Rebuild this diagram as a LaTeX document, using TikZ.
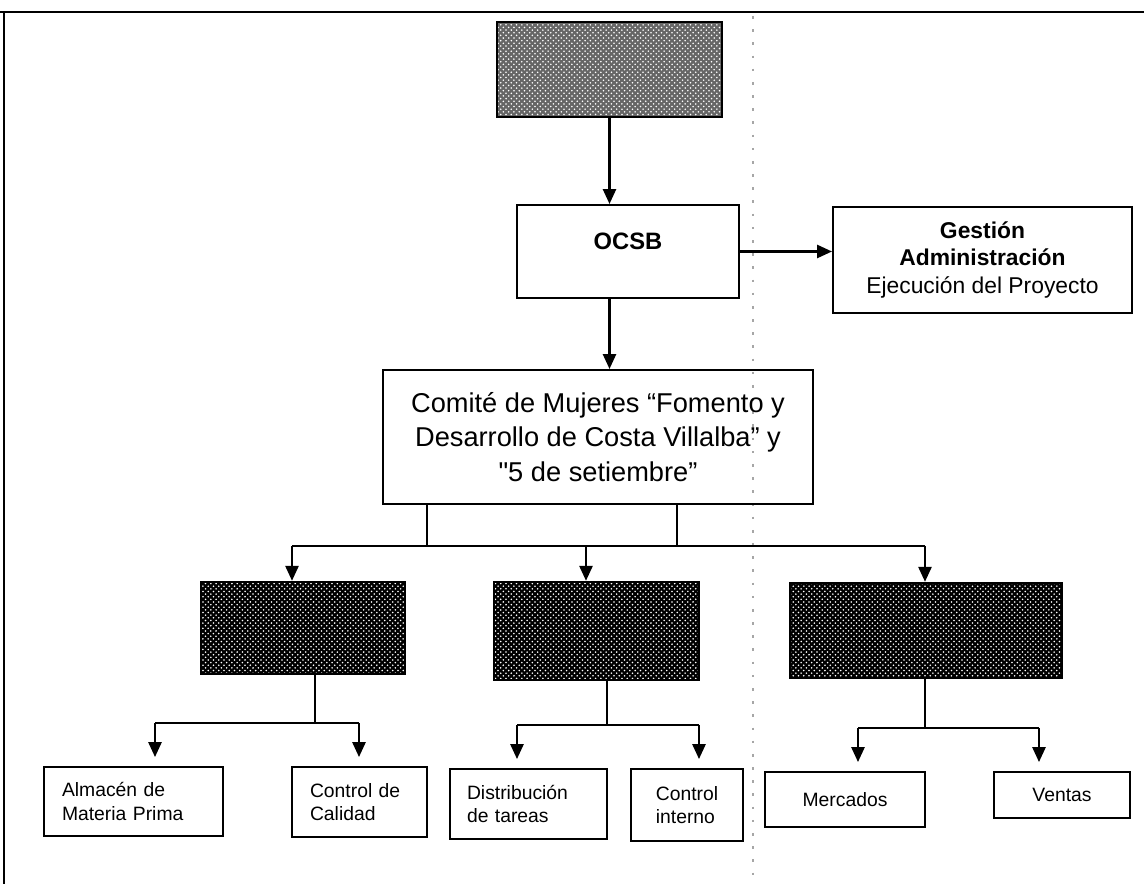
\documentclass[tikz,border=0pt]{standalone}
\usepackage{fontspec}
\setmainfont{Liberation Sans}
\usepackage{tikz}
\usetikzlibrary{arrows.meta, positioning, calc, patterns}

\begin{document}
\begin{tikzpicture}[x=0.02cm, y=-0.02cm,
    box/.style={draw, line width=1.2pt, align=center, inner sep=2pt},
    darkbox/.style={draw, line width=1.4pt, preaction={fill=black}, pattern=crosshatch dots, pattern color=white},
    lowbox/.style={draw, line width=1.1pt, align=left, inner sep=2pt, font=\fontsize{11}{13.5}\selectfont},
    link/.style={line width=1.2pt},
    arr/.style={link, -{Triangle[length=8.5pt,width=7.5pt]}}]
    \useasboundingbox (0,0) rectangle (1144,884);

    % Frame of the page
    \draw[line width=1.3pt] (0,12) -- (1144,12);
    \draw[line width=1.1pt] (4,12) -- (4,884);
    % Fold of the sheet
    \draw[gray!70, line width=1pt, dash pattern=on 1.5pt off 6pt] (753,16) -- (753,880);

    % Upper levels
    \node[draw, line width=1.4pt, preaction={fill=black!60}, pattern=crosshatch dots, pattern color=white,
          minimum width=4.5cm, minimum height=1.9cm] (proy) at (609.5,69.5) {};
    \node[box, font=\fontsize{13.5}{16}\selectfont\bfseries, text depth=12pt,
          minimum width=4.44cm, minimum height=1.86cm] (ocsb) at (628,251.5) {OCSB};
    \node[box, font=\fontsize{13}{15.5}\selectfont,
          minimum width=5.98cm, minimum height=2.12cm] (gest) at (982.5,260)
          {\textbf{Gestión}\\\textbf{Administración}\\Ejecución del Proyecto};
    \node[box, font=\fontsize{15.5}{19.5}\selectfont,
          minimum width=8.6cm, minimum height=2.68cm] (comite) at (598,437)
          {Comité de Mujeres “Fomento y\\Desarrollo de Costa Villalba” y\\\textquotedbl 5 de setiembre”};

    \draw[arr] (proy.south) -- (proy.south |- ocsb.north);
    \draw[arr] (ocsb.east) -- (ocsb.east -| gest.west);
    \draw[arr] (proy.south |- ocsb.south) -- (proy.south |- comite.north);

    % Second level (dark boxes)
    \node[darkbox, minimum width=4.08cm, minimum height=1.84cm] (d1) at (303,628) {};
    \node[darkbox, minimum width=4.1cm, minimum height=1.96cm] (d2) at (596.5,631) {};
    \node[darkbox, minimum width=5.44cm, minimum height=1.9cm] (d3) at (926,630.5) {};

    \coordinate (legA) at (427,546);
    \coordinate (legB) at (677,546);
    \coordinate (busL) at (292,546);
    \coordinate (busM) at (586,546);
    \coordinate (busR) at (925,546);
    \draw[link] (comite.south -| legA) -- (legA);
    \draw[link] (comite.south -| legB) -- (legB);
    \draw[link] (busL) -- (busR);
    \draw[arr] (busL) -- (busL |- d1.north);
    \draw[arr] (busM) -- (busM |- d2.north);
    \draw[arr] (busR) -- (busR |- d3.north);

    % Bottom level
    \node[lowbox, inner xsep=0.36cm, text width=2.86cm, minimum height=1.38cm] (alm) at (133.5,801.5) {Almacén de\\Materia Prima};
    \node[lowbox, inner xsep=0.36cm, text width=1.98cm, minimum height=1.4cm] (cal) at (359.5,802) {Control de\\Calidad};
    \node[lowbox, inner xsep=0.34cm, text width=2.46cm, minimum height=1.4cm] (dist) at (528.5,804) {Distribución\\de tareas};
    \node[lowbox, minimum width=2.24cm, minimum height=1.44cm] (cint) at (687,805) {Control\\interno};
    \node[lowbox, minimum width=3.2cm, minimum height=1.1cm] (merc) at (845,799.5) {Mercados};
    \node[lowbox, minimum width=2.72cm, minimum height=0.92cm] (vent) at (1062,795) {Ventas};

    \coordinate (s1) at (315,723);
    \coordinate (a1) at (155,723);
    \coordinate (a2) at (359,723);
    \coordinate (s2) at (607,725);
    \coordinate (a3) at (517,725);
    \coordinate (a4) at (699,725);
    \coordinate (s3) at (925,728);
    \coordinate (a5) at (858,728);
    \coordinate (a6) at (1039,728);

    \draw[link] (d1.south -| s1) -- (s1);
    \draw[link] (d2.south -| s2) -- (s2);
    \draw[link] (d3.south -| s3) -- (s3);
    \draw[link] (a1) -- (a2);
    \draw[link] (a3) -- (a4);
    \draw[link] (a5) -- (a6);
    \draw[arr, shorten >=0.18cm] (a1) -- (a1 |- alm.north);
    \draw[arr, shorten >=0.18cm] (a2) -- (a2 |- cal.north);
    \draw[arr, shorten >=0.18cm] (a3) -- (a3 |- dist.north);
    \draw[arr, shorten >=0.18cm] (a4) -- (a4 |- cint.north);
    \draw[arr, shorten >=0.18cm] (a5) -- (a5 |- merc.north);
    \draw[arr, shorten >=0.18cm] (a6) -- (a6 |- vent.north);
\end{tikzpicture}
\end{document}
